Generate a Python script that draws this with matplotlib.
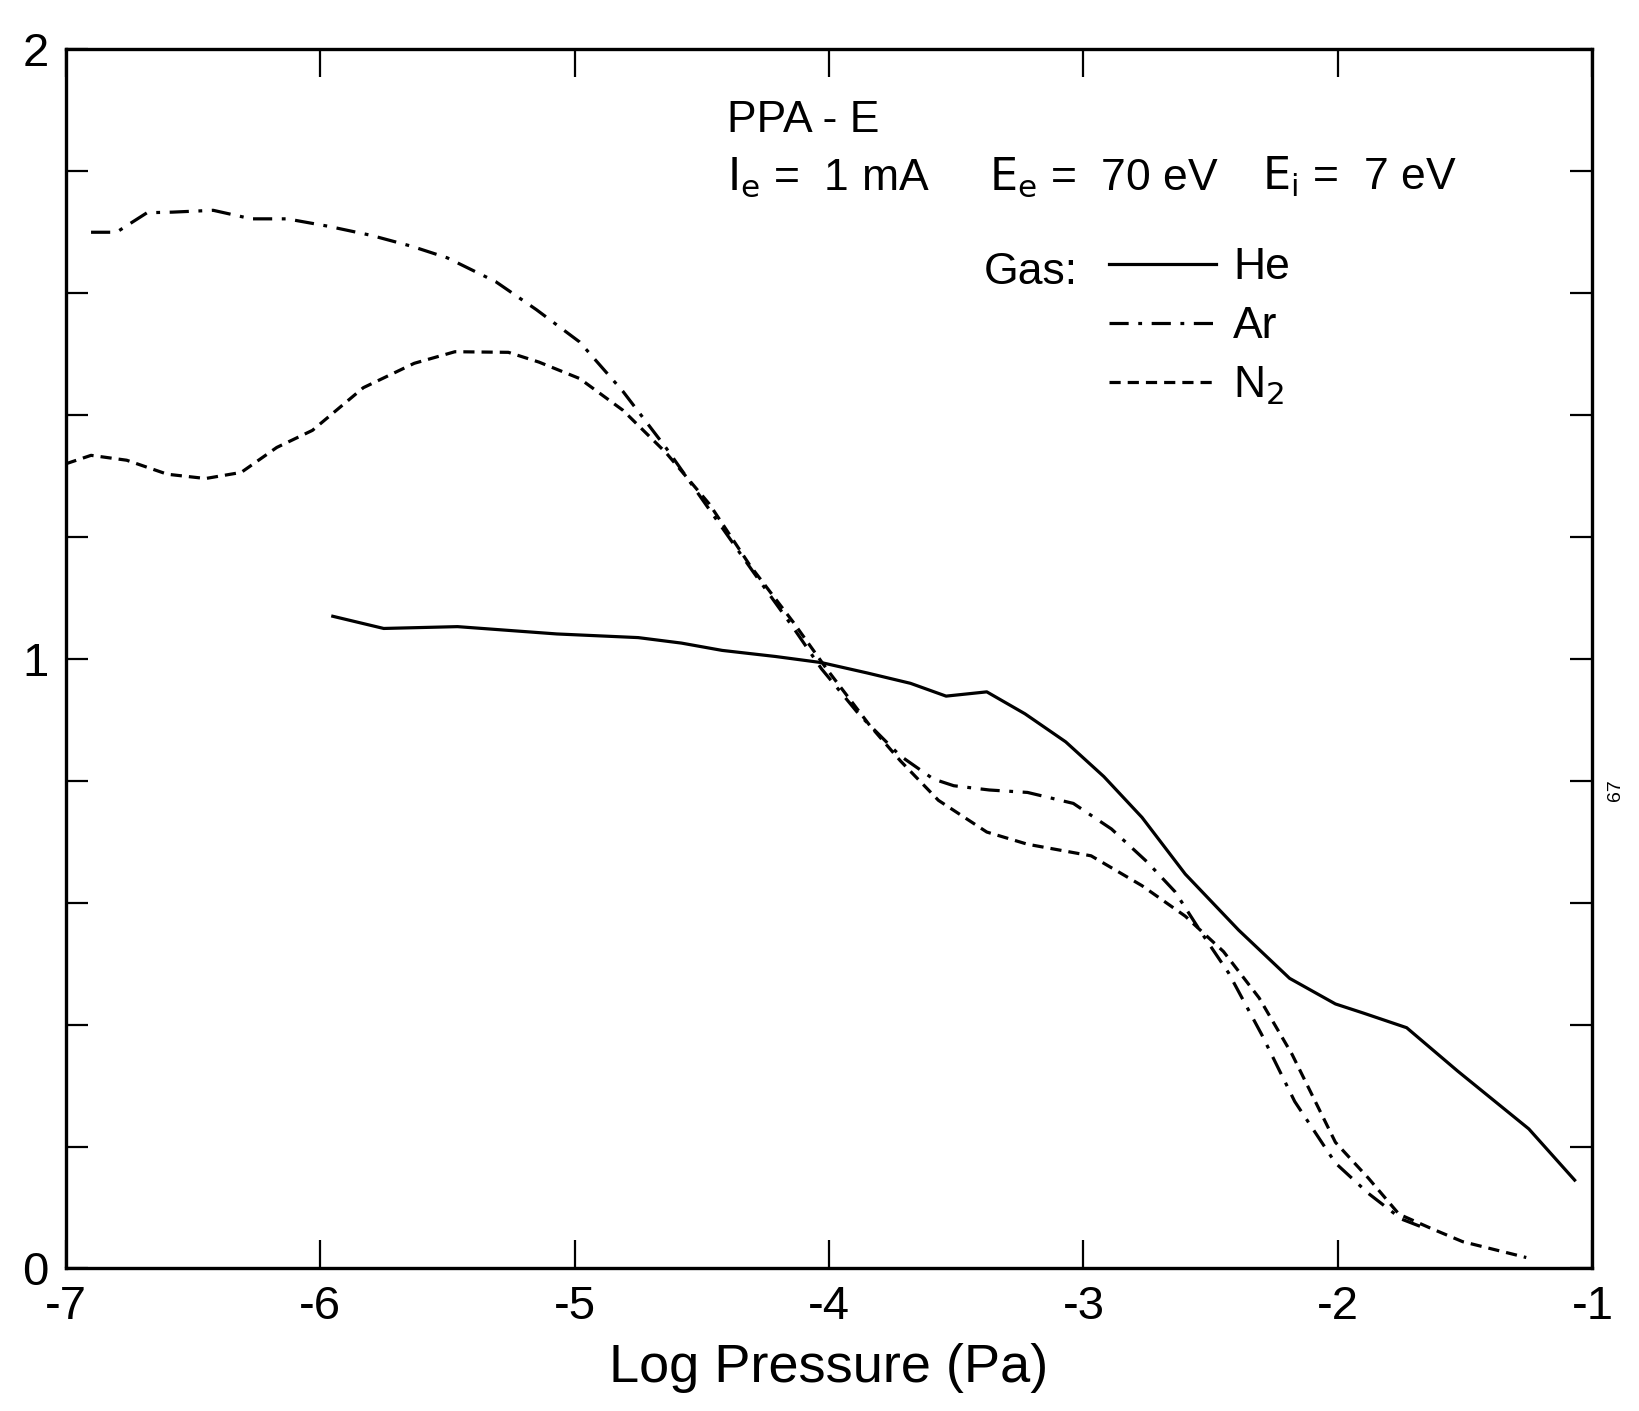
import matplotlib
matplotlib.use("Agg")
import matplotlib.pyplot as plt
from matplotlib.ticker import MultipleLocator

plt.rcParams["font.family"] = ["Liberation Sans Narrow", "Liberation Sans", "DejaVu Sans"]
plt.rcParams["mathtext.fontset"] = "custom"
plt.rcParams["mathtext.rm"] = "Liberation Sans Narrow"
plt.rcParams["mathtext.it"] = "Liberation Sans Narrow"

# He (solid)
he_x = [-5.95, -5.75, -5.46, -5.07, -4.75, -4.58, -4.42, -4.21, -4.03, -3.85,
        -3.68, -3.54, -3.38, -3.23, -3.07, -2.92, -2.77, -2.60, -2.39, -2.19,
        -2.01, -1.90, -1.73, -1.53, -1.25, -1.07]
he_y = [1.07, 1.05, 1.053, 1.041, 1.035, 1.026, 1.014, 1.004, 0.994, 0.977,
        0.96, 0.939, 0.946, 0.91, 0.864, 0.807, 0.74, 0.647, 0.555, 0.476,
        0.434, 0.419, 0.395, 0.324, 0.229, 0.145]

# Ar (dash-dot)
ar_x = [-6.90, -6.80, -6.68, -6.58, -6.42, -6.27, -6.13, -5.97, -5.80, -5.64,
        -5.50, -5.31, -5.15, -4.98, -4.81, -4.64, -4.47, -4.30, -4.14, -4.03,
        -3.88, -3.72, -3.59, -3.51, -3.37, -3.22, -3.04, -2.89, -2.75, -2.64,
        -2.54, -2.43, -2.30, -2.17, -2.01, -1.88, -1.75, -1.67]
ar_y = [1.70, 1.70, 1.732, 1.733, 1.736, 1.722, 1.722, 1.71, 1.695, 1.677,
        1.658, 1.619, 1.573, 1.52, 1.439, 1.346, 1.245, 1.144, 1.051, 0.984,
        0.908, 0.841, 0.803, 0.792, 0.785, 0.781, 0.763, 0.721, 0.667, 0.618,
        0.553, 0.485, 0.384, 0.274, 0.173, 0.123, 0.081, 0.068]

# N2 (dashed)
n2_x = [-7.0, -6.90, -6.76, -6.60, -6.45, -6.31, -6.17, -6.03, -5.83, -5.63,
        -5.47, -5.26, -5.14, -4.98, -4.81, -4.64, -4.47, -4.31, -4.14, -4.01,
        -3.84, -3.72, -3.57, -3.38, -3.22, -2.97, -2.77, -2.60, -2.45, -2.31,
        -2.18, -2.01, -1.88, -1.76, -1.63, -1.51, -1.26]
n2_y = [1.32, 1.334, 1.326, 1.303, 1.296, 1.306, 1.347, 1.375, 1.445, 1.485,
        1.504, 1.503, 1.487, 1.46, 1.408, 1.338, 1.254, 1.153, 1.06, 0.984,
        0.891, 0.833, 0.768, 0.716, 0.696, 0.677, 0.628, 0.578, 0.52, 0.444,
        0.351, 0.207, 0.148, 0.089, 0.065, 0.044, 0.018]

fig = plt.figure(figsize=(16.4, 14.11), dpi=100)
ax = fig.add_axes([0.040, 0.101, 0.931, 0.864])

lw = 2.3
ax.plot(he_x, he_y, color="black", lw=lw, linestyle="-", label="He")
ax.plot(ar_x, ar_y, color="black", lw=lw, linestyle=(0, (6, 3, 1.2, 3)), label="Ar")
ax.plot(n2_x, n2_y, color="black", lw=lw, linestyle=(0, (3.5, 2.2)), label="N$_2$")

ax.set_xlim(-7, -1)
ax.set_ylim(0, 2)
ax.xaxis.set_major_locator(MultipleLocator(1))
ax.yaxis.set_major_locator(MultipleLocator(1))
ax.yaxis.set_minor_locator(MultipleLocator(0.2))
ax.tick_params(which="both", direction="in", top=True, right=True, width=1.6,
               length=20, labelsize=34, pad=12)
ax.tick_params(axis="y", which="both", length=16)
for s in ax.spines.values():
    s.set_linewidth(2.4)

ax.set_xticklabels([str(int(v)) for v in ax.get_xticks()])
ax.set_yticklabels([str(int(v)) for v in ax.get_yticks()])
ax.set_xlabel("Log Pressure (Pa)", fontsize=39, labelpad=10)

fs = 32
ax.text(-4.40, 1.865, "PPA - E", fontsize=fs, va="baseline")
ax.text(-4.40, 1.77, r"$\mathrm{I_e}$ =  1 mA", fontsize=fs, va="baseline")
ax.text(-3.37, 1.77, r"$\mathrm{E_e}$ =  70 eV", fontsize=fs, va="baseline")
ax.text(-2.30, 1.77, r"$\mathrm{E_i}$ =  7 eV", fontsize=fs, va="baseline")
ax.text(-3.39, 1.615, "Gas:", fontsize=fs, va="baseline")

ax.legend(loc="upper left", bbox_to_anchor=(-2.90, 1.675), bbox_transform=ax.transData,
          frameon=False, fontsize=fs, handlelength=2.4, handletextpad=0.4,
          labelspacing=0.4, borderpad=0, borderaxespad=0)

fig.text(0.985, 0.44, "67", rotation=90, fontsize=14, va="center", ha="center")

fig.savefig("out.png", dpi=100)
